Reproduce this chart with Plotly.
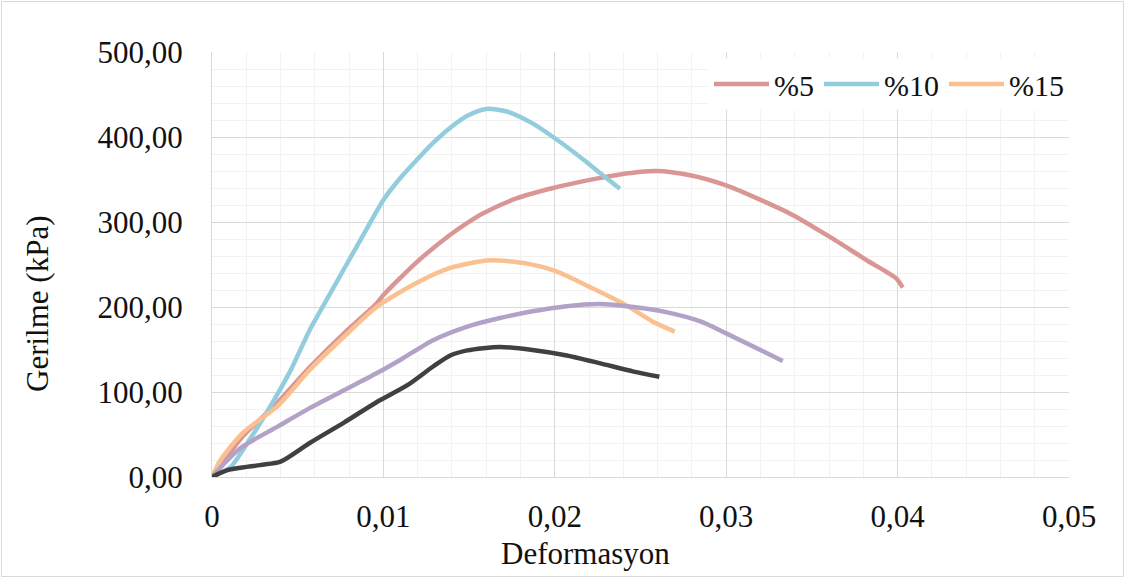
import plotly.graph_objects as go

# %5
x_5 = [0, 0.0018, 0.0038, 0.0057, 0.0077, 0.0096, 0.0100, 0.0119, 0.0139, 0.0149, 0.0158, 0.0178, 0.0199,
       0.0219, 0.0238, 0.0259, 0.0279, 0.0300, 0.0320, 0.0339, 0.0360, 0.0382, 0.0399, 0.0403]
y_5 = [0, 48, 87, 129, 169, 204, 214, 252, 285, 299, 310, 328, 340,
       349, 356, 360, 355, 343, 326, 308, 283, 255, 234, 223]
# %10
x_10 = [0, 0.0005, 0.0011, 0.0022, 0.0034, 0.0046, 0.0057, 0.0069, 0.0090, 0.0100, 0.0110, 0.0119,
        0.0129, 0.0139, 0.0149, 0.0160, 0.0172, 0.0187, 0.0199, 0.0217, 0.0228, 0.0238]
y_10 = [0, 5, 12, 44, 83, 126, 173, 216, 291, 326, 352, 372,
        393, 411, 425, 433, 430, 416, 400, 373, 355, 339]
# %15
x_15 = [0, 0.0005, 0.0018, 0.0038, 0.0057, 0.0077, 0.0096, 0.0119, 0.0139, 0.0162, 0.0184,
        0.0201, 0.0220, 0.0240, 0.0257, 0.0270]
y_15 = [0, 20, 52, 83, 126, 165, 200, 228, 246, 255, 251,
        242, 224, 204, 183, 171]
# purple series
x_p = [0, 0.0010, 0.0018, 0.0038, 0.0057, 0.0077, 0.0096, 0.0110, 0.0129, 0.0149, 0.0168, 0.0187,
       0.0207, 0.0226, 0.0246, 0.0265, 0.0285, 0.0300, 0.0333]
y_p = [0, 22, 36, 59, 81, 102, 122, 138, 161, 177, 187, 195,
       201, 203.5, 200, 194, 183, 169, 136.5]
# black series
x_k = [0, 0.0009, 0.0028, 0.0040, 0.0057, 0.0077, 0.0096, 0.0114, 0.0129, 0.0139, 0.0149, 0.0168,
       0.0187, 0.0207, 0.0226, 0.0246, 0.0261]
y_k = [0, 8, 14, 18, 40, 64, 88, 108, 130, 143, 149, 153,
       149.5, 143, 134, 124, 118]

FONT = "Liberation Serif"

fig = go.Figure()
series = [
    ("%5", x_5, y_5, "#D99694", True),
    ("%10", x_10, y_10, "#93CDDD", True),
    ("%15", x_15, y_15, "#FAC090", True),
    ("p", x_p, y_p, "#B3A2C7", False),
    ("k", x_k, y_k, "#404040", False),
]
for name, xs, ys, col, sl in series:
    fig.add_trace(go.Scatter(x=xs, y=ys, name=name, mode="lines", showlegend=sl,
                             line=dict(color=col, width=4.5, shape="spline", smoothing=0.7)))

L, R, T, B = 212, 56, 52, 101
W, H = 1125, 578
pw, ph = W - L - R, H - T - B

def px(xp):
    return (xp - L) / pw

def py(yp):
    return (H - B - yp) / ph

fig.update_layout(
    width=W, height=H, autosize=False,
    margin=dict(l=L, r=R, t=T, b=B),
    paper_bgcolor="white", plot_bgcolor="white",
    separators=",.",
    font=dict(family=FONT, size=31, color="#111111"),
    xaxis=dict(range=[0, 0.05], tick0=0, dtick=0.01, tickformat=".2~f",
               showgrid=True, gridcolor="#D9D9D9", gridwidth=1,
               minor=dict(dtick=0.002, showgrid=True, gridcolor="#F2F2F2", gridwidth=1),
               zeroline=False, showline=True, linecolor="#D9D9D9",
               ticks="", ticklabelstandoff=12, tickfont=dict(size=31, family=FONT)),
    yaxis=dict(range=[0, 500], tick0=0, dtick=100, tickformat=".2f",
               showgrid=True, gridcolor="#D9D9D9", gridwidth=1,
               minor=dict(dtick=20, showgrid=True, gridcolor="#F2F2F2", gridwidth=1),
               zeroline=False, showline=True, linecolor="#D9D9D9",
               ticks="", ticklabelstandoff=22, tickfont=dict(size=31, family=FONT)),
    legend=dict(orientation="h", x=1, xanchor="right", y=py(58), yanchor="top",
                itemwidth=55,
                bgcolor="white", font=dict(size=30, family=FONT), borderwidth=0),
    annotations=[
        dict(text="Gerilme (kPa)", x=px(37), y=py(304), xref="paper", yref="paper",
             xanchor="center", yanchor="middle",
             showarrow=False, textangle=-90, font=dict(size=31, family=FONT)),
        dict(text="Deformasyon", x=px(585), y=py(553), xref="paper", yref="paper",
             xanchor="center", yanchor="middle",
             showarrow=False, font=dict(size=31, family=FONT)),
    ],
    shapes=[
        dict(type="rect", xref="paper", yref="paper",
             x0=px(1.5), x1=px(1123.5), y0=py(576.5), y1=py(1.5),
             line=dict(color="#D9D9D9", width=1), layer="below"),
    ],
)

fig.write_html("out.html", config={"displayModeBar": False},
               post_script="document.body.style.margin='0px';")
